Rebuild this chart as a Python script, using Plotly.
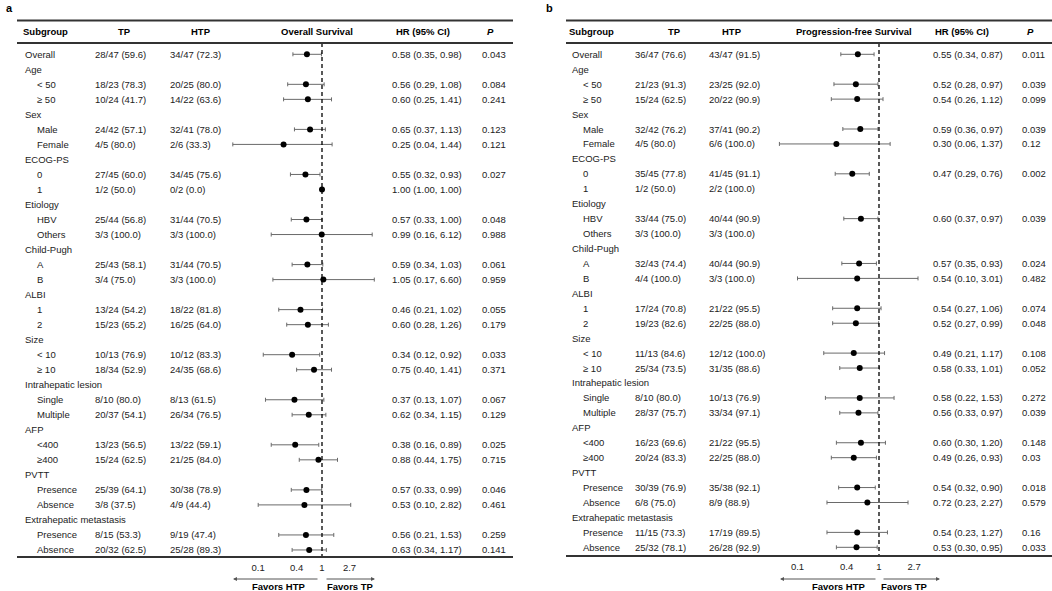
import plotly.graph_objects as go

W, H = 1052, 591

# Rows (shared by both panels)
labels = ["Overall", "Age", "< 50", "\u2265 50", "Sex", "Male", "Female", "ECOG-PS", "0", "1",
          "Etiology", "HBV", "Others", "Child-Pugh", "A", "B", "ALBI", "1", "2",
          "Size", "< 10", "\u2265 10", "Intrahepatic lesion", "Single", "Multiple",
          "AFP", "<400", "\u2265400", "PVTT", "Presence", "Absence",
          "Extrahepatic metastasis", "Presence", "Absence"]
levels = [0, 0, 1, 1, 0, 1, 1, 0, 1, 1, 0, 1, 1, 0, 1, 1, 0, 1, 1,
          0, 1, 1, 0, 1, 1, 0, 1, 1, 0, 1, 1, 0, 1, 1]

# Panel a: overall survival
os_tp = ["28/47 (59.6)", "", "18/23 (78.3)", "10/24 (41.7)", "", "24/42 (57.1)", "4/5 (80.0)", "",
         "27/45 (60.0)", "1/2 (50.0)", "", "25/44 (56.8)", "3/3 (100.0)", "", "25/43 (58.1)",
         "3/4 (75.0)", "", "13/24 (54.2)", "15/23 (65.2)", "", "10/13 (76.9)", "18/34 (52.9)", "",
         "8/10 (80.0)", "20/37 (54.1)", "", "13/23 (56.5)", "15/24 (62.5)", "", "25/39 (64.1)",
         "3/8 (37.5)", "", "8/15 (53.3)", "20/32 (62.5)"]
os_htp = ["34/47 (72.3)", "", "20/25 (80.0)", "14/22 (63.6)", "", "32/41 (78.0)", "2/6 (33.3)", "",
          "34/45 (75.6)", "0/2 (0.0)", "", "31/44 (70.5)", "3/3 (100.0)", "", "31/44 (70.5)",
          "3/3 (100.0)", "", "18/22 (81.8)", "16/25 (64.0)", "", "10/12 (83.3)", "24/35 (68.6)", "",
          "8/13 (61.5)", "26/34 (76.5)", "", "13/22 (59.1)", "21/25 (84.0)", "", "30/38 (78.9)",
          "4/9 (44.4)", "", "9/19 (47.4)", "25/28 (89.3)"]
os_hr = [0.58, None, 0.56, 0.60, None, 0.65, 0.25, None, 0.55, 1.00, None, 0.57, 0.99, None, 0.59, 1.05,
         None, 0.46, 0.60, None, 0.34, 0.75, None, 0.37, 0.62, None, 0.38, 0.88, None, 0.57, 0.53,
         None, 0.56, 0.63]
os_lo = [0.35, None, 0.29, 0.25, None, 0.37, 0.04, None, 0.32, 1.00, None, 0.33, 0.16, None, 0.34, 0.17,
         None, 0.21, 0.28, None, 0.12, 0.40, None, 0.13, 0.34, None, 0.16, 0.44, None, 0.33, 0.10,
         None, 0.21, 0.34]
os_hi = [0.98, None, 1.08, 1.41, None, 1.13, 1.44, None, 0.93, 1.00, None, 1.00, 6.12, None, 1.03, 6.60,
         None, 1.02, 1.26, None, 0.92, 1.41, None, 1.07, 1.15, None, 0.89, 1.75, None, 0.99, 2.82,
         None, 1.53, 1.17]
os_p = ["0.043", "", "0.084", "0.241", "", "0.123", "0.121", "", "0.027", "", "", "0.048", "0.988", "",
        "0.061", "0.959", "", "0.055", "0.179", "", "0.033", "0.371", "", "0.067", "0.129", "",
        "0.025", "0.715", "", "0.046", "0.461", "", "0.259", "0.141"]

# Panel b: progression-free survival
pfs_tp = ["36/47 (76.6)", "", "21/23 (91.3)", "15/24 (62.5)", "", "32/42 (76.2)", "4/5 (80.0)", "",
          "35/45 (77.8)", "1/2 (50.0)", "", "33/44 (75.0)", "3/3 (100.0)", "", "32/43 (74.4)",
          "4/4 (100.0)", "", "17/24 (70.8)", "19/23 (82.6)", "", "11/13 (84.6)", "25/34 (73.5)", "",
          "8/10 (80.0)", "28/37 (75.7)", "", "16/23 (69.6)", "20/24 (83.3)", "", "30/39 (76.9)",
          "6/8 (75.0)", "", "11/15 (73.3)", "25/32 (78.1)"]
pfs_htp = ["43/47 (91.5)", "", "23/25 (92.0)", "20/22 (90.9)", "", "37/41 (90.2)", "6/6 (100.0)", "",
           "41/45 (91.1)", "2/2 (100.0)", "", "40/44 (90.9)", "3/3 (100.0)", "", "40/44 (90.9)",
           "3/3 (100.0)", "", "21/22 (95.5)", "22/25 (88.0)", "", "12/12 (100.0)", "31/35 (88.6)", "",
           "10/13 (76.9)", "33/34 (97.1)", "", "21/22 (95.5)", "22/25 (88.0)", "", "35/38 (92.1)",
           "8/9 (88.9)", "", "17/19 (89.5)", "26/28 (92.9)"]
pfs_hr = [0.55, None, 0.52, 0.54, None, 0.59, 0.30, None, 0.47, None, None, 0.60, None, None, 0.57, 0.54,
          None, 0.54, 0.52, None, 0.49, 0.58, None, 0.58, 0.56, None, 0.60, 0.49, None, 0.54, 0.72,
          None, 0.54, 0.53]
pfs_lo = [0.34, None, 0.28, 0.26, None, 0.36, 0.06, None, 0.29, None, None, 0.37, None, None, 0.35, 0.10,
          None, 0.27, 0.27, None, 0.21, 0.33, None, 0.22, 0.33, None, 0.30, 0.26, None, 0.32, 0.23,
          None, 0.23, 0.30]
pfs_hi = [0.87, None, 0.97, 1.12, None, 0.97, 1.37, None, 0.76, None, None, 0.97, None, None, 0.93, 3.01,
          None, 1.06, 0.99, None, 1.17, 1.01, None, 1.53, 0.97, None, 1.20, 0.93, None, 0.90, 2.27,
          None, 1.27, 0.95]
pfs_p = ["0.011", "", "0.039", "0.099", "", "0.039", "0.12", "", "0.002", "", "", "0.039", "", "",
         "0.024", "0.482", "", "0.074", "0.048", "", "0.108", "0.052", "", "0.272", "0.039", "",
         "0.148", "0.03", "", "0.018", "0.579", "", "0.16", "0.033"]

ticks = [0.1, 0.4, 1, 2.7]

FONT = "Liberation Sans, Arial, sans-serif"
TXT = "#222222"
FS = 9.5


def px(x):
    return x / W


def py(y):
    return 1 - y / H


fig = go.Figure()

panels = [
    dict(name="a", title="Overall Survival", tp=os_tp, htp=os_htp, hr=os_hr, lo=os_lo, hi=os_hi, p=os_p,
         xa="x", ya="y", left=17, right=513, sub=21, grp=23, item=35, c_tp=93, c_htp=168, c_hr=390,
         c_p=480, h_tp=124, h_htp=201, h_plot=317, h_hr=423, h_p=490, lab_x=4,
         one=322, dec=63.8, dom=(200, 385), y0=54.3, step=15.02, bot=557,
         fav_l=(233, 319), fav_r=(325, 375), fav_tx=(278, 350)),
    dict(name="b", title="Progression-free Survival", tp=pfs_tp, htp=pfs_htp, hr=pfs_hr, lo=pfs_lo,
         hi=pfs_hi, p=pfs_p, xa="x2", ya="y2", left=566, right=1052, sub=567, grp=570, item=581,
         c_tp=633, c_htp=707, c_hr=931, c_p=1020, h_tp=674, h_htp=732, h_plot=854, h_hr=962,
         h_p=1030, lab_x=544, one=879, dec=81.5, dom=(760, 965), y0=54.3, step=14.94, bot=556,
         fav_l=(780, 877), fav_r=(882, 940), fav_tx=(838, 904)),
]

for k, P in enumerate(panels):
    sfx = "" if k == 0 else "2"
    # rows -> pixel: y = y0 + step * i
    y_top = (0 - P["y0"]) / P["step"]
    y_bot = (H - P["y0"]) / P["step"]
    fig.update_layout(**{
        "yaxis" + sfx: dict(domain=[0, 1], range=[y_bot, y_top], visible=False, fixedrange=True,
                            anchor="x" + sfx),
        "xaxis" + sfx: dict(type="log", domain=[px(P["dom"][0]), px(P["dom"][1])],
                            range=[(P["dom"][0] - P["one"]) / P["dec"], (P["dom"][1] - P["one"]) / P["dec"]],
                            anchor="free", position=py(P["bot"] + 3), showline=False, showgrid=False,
                            zeroline=False, ticks="", tickvals=ticks, ticktext=[str(t) for t in ticks],
                            tickfont=dict(family=FONT, size=FS, color=TXT), fixedrange=True),
    })

    rows = [i for i, v in enumerate(P["hr"]) if v is not None]
    hr = [P["hr"][i] for i in rows]
    fig.add_trace(go.Scatter(
        x=hr, y=rows, xaxis=P["xa"], yaxis=P["ya"], mode="markers",
        marker=dict(color="black", size=6),
        error_x=dict(type="data", symmetric=False,
                     array=[P["hi"][i] - P["hr"][i] for i in rows],
                     arrayminus=[P["hr"][i] - P["lo"][i] for i in rows],
                     color="#6a6a6a", thickness=1, width=2),
        showlegend=False, hoverinfo="skip"))

    # reference line at HR = 1
    fig.add_shape(type="line", xref=P["xa"], yref="paper", x0=1, x1=1,
                  y0=py(43), y1=py(P["bot"]), line=dict(color="black", width=1.3, dash="4px,3px"))

    # rules
    for yy, w in [(20.5, 2), (43, 1.8), (P["bot"], 2.2)]:
        fig.add_shape(type="line", xref="paper", yref="paper", x0=px(P["left"]), x1=px(P["right"]),
                      y0=py(yy), y1=py(yy), line=dict(color="#333333", width=w))

    ann = []
    ann.append(dict(x=px(P["lab_x"]), y=py(8), text="<b>" + P["name"] + "</b>", xanchor="left",
                    font=dict(size=11, color="black")))
    hdr = [(P["sub"], "left", "Subgroup"), (P["h_tp"], "center", "TP"), (P["h_htp"], "center", "HTP"),
           (P["h_plot"], "center", P["title"]), (P["h_hr"], "center", "HR (95% CI)"),
           (P["h_p"], "center", "<i>P</i>")]
    for x, anc, t in hdr:
        ann.append(dict(x=px(x), y=py(32), text="<b>" + t + "</b>", xanchor=anc,
                        font=dict(size=FS, color="black")))

    for i, lab in enumerate(labels):
        yy = py(P["y0"] + P["step"] * i)
        ann.append(dict(x=px(P["item"] if levels[i] else P["grp"]), y=yy, text=lab, xanchor="left"))
        for col, key in [(P["c_tp"], "tp"), (P["c_htp"], "htp"), (P["c_p"], "p")]:
            if P[key][i]:
                ann.append(dict(x=px(col), y=yy, text=P[key][i], xanchor="left"))
        if P["hr"][i] is not None:
            ann.append(dict(x=px(P["c_hr"]), y=yy,
                            text=f"{P['hr'][i]:.2f} ({P['lo'][i]:.2f}, {P['hi'][i]:.2f})",
                            xanchor="left"))

    # favours arrows
    ya = py(579)
    l0, l1 = P["fav_l"]
    r0, r1 = P["fav_r"]
    ann.append(dict(x=px(l0), y=ya, ax=l1 - l0, ay=0, showarrow=True, arrowhead=2, arrowsize=0.8,
                    arrowwidth=1, arrowcolor="#555555", text=""))
    ann.append(dict(x=px(r1), y=ya, ax=r0 - r1, ay=0, showarrow=True, arrowhead=2, arrowsize=0.8,
                    arrowwidth=1, arrowcolor="#555555", text=""))
    ann.append(dict(x=px(P["fav_tx"][0]), y=py(586), text="<b>Favors HTP</b>", xanchor="center",
                    font=dict(size=FS, color="black")))
    ann.append(dict(x=px(P["fav_tx"][1]), y=py(586), text="<b>Favors TP</b>", xanchor="center",
                    font=dict(size=FS, color="black")))

    for a in ann:
        a.setdefault("xref", "paper")
        a.setdefault("yref", "paper")
        a.setdefault("showarrow", False)
        a.setdefault("yanchor", "middle")
        a.setdefault("font", dict(size=FS, color=TXT))
        a["font"]["family"] = FONT
        fig.add_annotation(**a)

fig.update_layout(width=W, height=H, margin=dict(l=0, r=0, t=0, b=0),
                  paper_bgcolor="white", plot_bgcolor="white",
                  font=dict(family=FONT, size=FS, color=TXT))

# page body has a default 8px margin; drop it so the figure fills the window
fig.write_html("out.html", config={"displayModeBar": False},
               post_script="document.body.style.margin='0';document.body.style.overflow='hidden';")
